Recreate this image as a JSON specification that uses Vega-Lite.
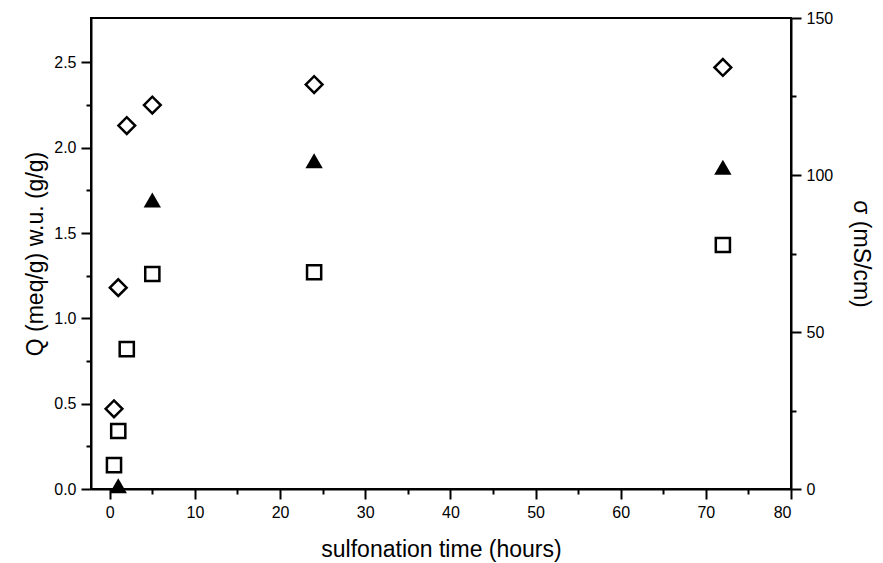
{
  "$schema": "https://vega.github.io/schema/vega-lite/v6.json",
  "width": 700,
  "height": 471,
  "autosize": {"type": "none"},
  "padding": {"left": 91, "top": 18, "right": 92, "bottom": 74},
  "background": "white",
  "config": {
    "view": {"stroke": "black", "strokeWidth": 2},
    "font": "Liberation Sans",
    "axis": {
      "domainColor": "black",
      "domainWidth": 2,
      "tickColor": "black",
      "tickWidth": 2,
      "labelColor": "black",
      "titleColor": "black",
      "labelFont": "Liberation Sans",
      "titleFont": "Liberation Sans",
      "labelFontSize": 16,
      "titleFontSize": 23,
      "titleFontWeight": "normal",
      "grid": false
    }
  },
  "datasets": {
    "left": [
      {"time": 0.5, "value": 0.47, "series": "w.u."},
      {"time": 1, "value": 1.18, "series": "w.u."},
      {"time": 2, "value": 2.13, "series": "w.u."},
      {"time": 5, "value": 2.25, "series": "w.u."},
      {"time": 24, "value": 2.37, "series": "w.u."},
      {"time": 72, "value": 2.47, "series": "w.u."},
      {"time": 0.5, "value": 0.14, "series": "Q"},
      {"time": 1, "value": 0.34, "series": "Q"},
      {"time": 2, "value": 0.82, "series": "Q"},
      {"time": 5, "value": 1.26, "series": "Q"},
      {"time": 24, "value": 1.27, "series": "Q"},
      {"time": 72, "value": 1.43, "series": "Q"}
    ],
    "right": [
      {"time": 1, "sigma": 1},
      {"time": 5, "sigma": 92},
      {"time": 24, "sigma": 104.5},
      {"time": 72, "sigma": 102.5}
    ]
  },
  "encoding": {
    "x": {
      "field": "time",
      "type": "quantitative",
      "scale": {"domain": [-2.2, 80], "nice": false, "zero": false},
      "axis": {
        "title": "sulfonation time (hours)",
        "values": [0, 5, 10, 15, 20, 25, 30, 35, 40, 45, 50, 55, 60, 65, 70, 75, 80],
        "labelExpr": "datum.value % 10 === 0 ? datum.label : ''",
        "tickSize": {"condition": {"test": "datum.value % 10 !== 0", "value": 5}, "value": 10},
        "labelPadding": 5,
        "titlePadding": 18
      }
    }
  },
  "layer": [
    {
      "data": {"name": "left"},
      "mark": {"type": "point", "filled": false, "strokeWidth": 2.5, "color": "black", "opacity": 1},
      "encoding": {
        "y": {
          "field": "value",
          "type": "quantitative",
          "scale": {"domain": [0, 2.76], "nice": false},
          "axis": {
            "orient": "left",
            "title": "Q (meq/g)  w.u. (g/g)",
            "values": [0, 0.25, 0.5, 0.75, 1, 1.25, 1.5, 1.75, 2, 2.25, 2.5],
            "format": ".1f",
            "labelExpr": "datum.value % 0.5 === 0 ? datum.label : ''",
            "tickSize": {"condition": {"test": "datum.value % 0.5 !== 0", "value": 5}, "value": 10},
            "labelPadding": 5,
            "titlePadding": 6
          }
        },
        "shape": {
          "field": "series",
          "type": "nominal",
          "scale": {"domain": ["Q", "w.u."], "range": ["square", "diamond"]},
          "legend": null
        },
        "size": {
          "field": "series",
          "type": "nominal",
          "scale": {"domain": ["Q", "w.u."], "range": [200, 280]},
          "legend": null
        }
      }
    },
    {
      "data": {"name": "right"},
      "mark": {"type": "point", "shape": "triangle-up", "filled": true, "color": "black", "size": 300, "opacity": 1},
      "encoding": {
        "y": {
          "field": "sigma",
          "type": "quantitative",
          "scale": {"domain": [0, 150], "nice": false},
          "axis": {
            "orient": "right",
            "title": "σ (mS/cm)",
            "values": [0, 25, 50, 75, 100, 125, 150],
            "labelExpr": "datum.value % 50 === 0 ? datum.label : ''",
            "tickSize": {"condition": {"test": "datum.value % 50 !== 0", "value": 5}, "value": 10},
            "labelPadding": 5,
            "titlePadding": 16
          }
        }
      }
    }
  ],
  "resolve": {"scale": {"y": "independent"}}
}
